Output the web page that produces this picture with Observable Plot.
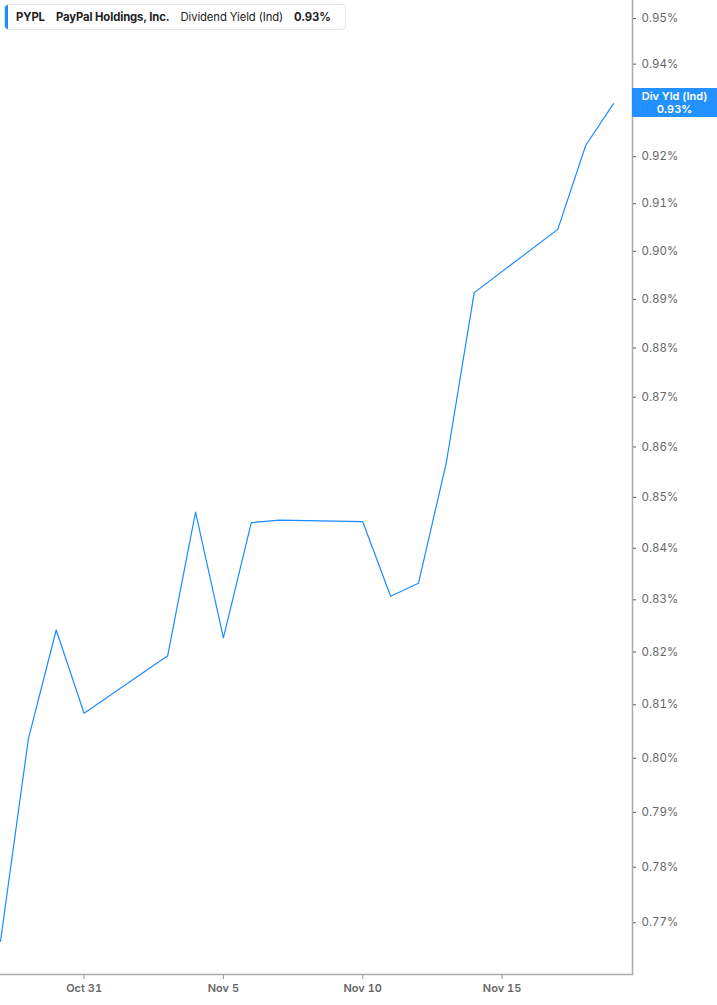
<!DOCTYPE html>
<html>
<head>
<meta charset="utf-8">
<script src="https://cdn.jsdelivr.net/npm/d3@7"></script>
<script src="https://cdn.jsdelivr.net/npm/@observablehq/plot@0.6"></script>
<style>
  html, body { margin: 0; padding: 0; background: #fff; }
  #wrap { position: relative; width: 717px; height: 1005px; font-family: Inter, "Noto Sans", sans-serif; }
  #legend { position: absolute; left: 4px; top: 4px; height: 26px; width: 342px; box-sizing: border-box;
    background: #fff; border: 1px solid #e6e6e6; border-radius: 4px; display: flex; align-items: center;
    font-size: 11.3px; color: #222; white-space: nowrap; overflow: hidden; letter-spacing: -0.1px; }
  #legend .bar { width: 3px; height: 100%; background: #1a8cff; margin-right: 8px; border-radius: 2px 0 0 2px; }
  #legend b { font-weight: 700; }
  #legend span { margin-right: 11px; }
  #tag { position: absolute; left: 632px; width: 85px; height: 29px; background: rgba(26,140,255,0.96); color: #fff;
    font-size: 11px; font-weight: 600; text-align: center; line-height: 12.5px; box-sizing: border-box; padding-top: 2px; }
</style>
</head>
<body>
<div id="wrap"></div>
<script>
const dates = ["2025-10-28","2025-10-29","2025-10-30","2025-10-31","2025-11-03","2025-11-04","2025-11-05","2025-11-06","2025-11-07","2025-11-10","2025-11-11","2025-11-12","2025-11-13","2025-11-14","2025-11-17","2025-11-18","2025-11-19"];
const yields = [0.7667, 0.8036, 0.8242, 0.8084, 0.8193, 0.8471, 0.8227, 0.8450, 0.8455, 0.8452, 0.8307, 0.8332, 0.8569, 0.8914, 0.9046, 0.9224, 0.9314];
const yTicks = [0.77, 0.78, 0.79, 0.80, 0.81, 0.82, 0.83, 0.84, 0.85, 0.86, 0.87, 0.88, 0.89, 0.90, 0.91, 0.92, 0.93, 0.94, 0.95];
const xTicks = ["2025-10-31", "2025-11-05", "2025-11-10", "2025-11-15"];
const ticker = "PYPL", company = "PayPal Holdings, Inc.", metric = "Dividend Yield (Ind)", tagLabel = "Div Yld (Ind)";

const data = dates.map((d, i) => ({date: new Date(d), value: yields[i]}));
const fmtPct = v => v.toFixed(2) + "%";

const chart = Plot.plot({
  width: 717,
  height: 1005,
  marginLeft: 0,
  marginRight: 85,
  marginTop: 0,
  marginBottom: 31,
  style: {fontFamily: "Inter, 'Noto Sans', sans-serif", fontSize: "11px", color: "#666", background: "#fff"},
  x: {type: "utc", domain: [new Date("2025-10-28"), new Date("2025-11-19T16:20:00Z")]},
  y: {type: "log", domain: [0.7608, 0.954]},
  marks: [
    Plot.line(data, {x: "date", y: "value", stroke: "#1a8cff", strokeWidth: 1.2}),
    Plot.axisY(yTicks, {anchor: "right", tickSize: 3, tickPadding: 6, stroke: "#555", tickFormat: fmtPct, fill: "#666", fontSize: 11.5, label: null}),
    Plot.axisX(xTicks.map(d => new Date(d)), {anchor: "bottom", tickSize: 5, tickPadding: 5, stroke: "#999", tickFormat: d3.utcFormat("%b %-d"), fill: "#666", fontSize: 11, fontWeight: 600, label: null}),
    Plot.frame({anchor: "right", stroke: "#aaa", strokeWidth: 1.5}),
    Plot.frame({anchor: "bottom", stroke: "#aaa", strokeWidth: 1.5})
  ]
});

const wrap = document.getElementById("wrap");
wrap.appendChild(chart);

const legend = document.createElement("div");
legend.id = "legend";
legend.innerHTML = `<div class="bar"></div><span><b>${ticker}</b></span><span><b>${company}</b></span><span>${metric}</span><span><b>${fmtPct(yields[yields.length-1])}</b></span>`;
wrap.appendChild(legend);

const last = yields[yields.length - 1];
const ty = chart.scale("y").apply(last);
const tag = document.createElement("div");
tag.id = "tag";
tag.style.top = (ty - 15) + "px";
tag.innerHTML = `${tagLabel}<br>${fmtPct(last)}`;
wrap.appendChild(tag);
</script>
</body>
</html>
